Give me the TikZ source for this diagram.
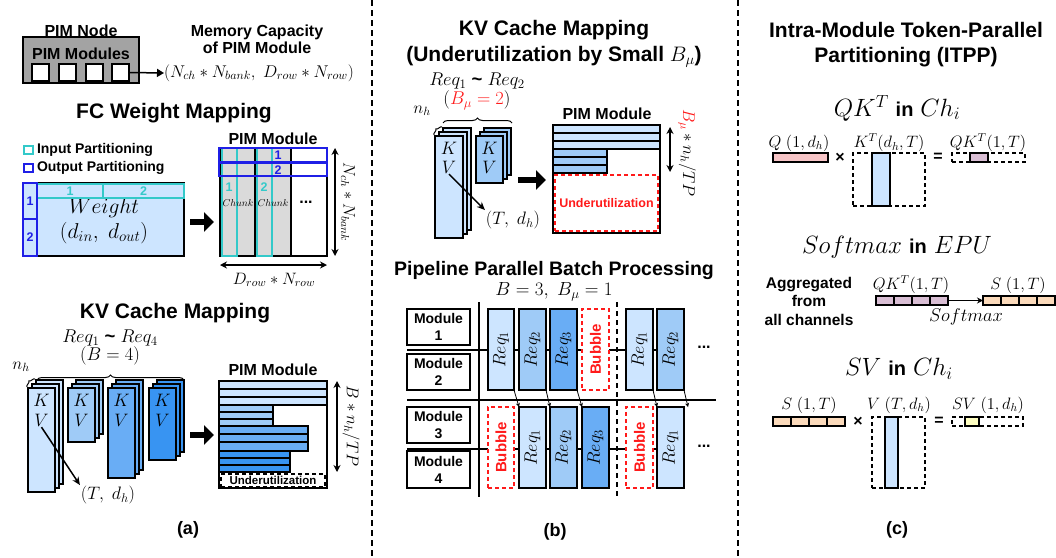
\RequirePackage{fix-cm}
\documentclass[tikz,border=0pt]{standalone}
\usepackage[no-math]{fontspec}
\setmainfont{Liberation Sans}
\usepackage{graphicx}
\usetikzlibrary{arrows.meta,decorations.pathreplacing}
\definecolor{cA}{HTML}{CDE5FF}
\definecolor{cB}{HTML}{9FCBF7}
\definecolor{cC}{HTML}{69ADF5}
\definecolor{cD}{HTML}{3894F2}
\definecolor{cyanP}{HTML}{33C9C9}
\definecolor{blueP}{HTML}{1F1FE6}
\definecolor{nodegray}{HTML}{A3A3A3}
\definecolor{colgray}{HTML}{DADADA}
\definecolor{qpink}{HTML}{F7C5C7}
\definecolor{mauve}{HTML}{D9BED4}
\definecolor{peach}{HTML}{FBDABB}
\definecolor{pyellow}{HTML}{FFFFC2}
\definecolor{bred}{HTML}{FF1A1A}
\newcommand\fs[2]{\fontsize{#1}{#2}\selectfont}
\newcommand\R[7][]{\node[rbox,#1,minimum width={((#5)-(#3))*1pt},minimum height={((#6)-(#4))*1pt}] (#2) at ({((#3)+(#5))/2},{((#4)+(#6))/2}) {#7};}
\newcommand\kvstack[6]{%
  \R[fill=#6]{#1c}{#2+8}{#3-8}{#2+#4+8}{#3+#5-8}{}%
  \R[fill=#6]{#1b}{#2+4}{#3-4}{#2+#4+4}{#3+#5-4}{}%
  \R[fill=#6]{#1a}{#2}{#3}{#2+#4}{#3+#5}{}}
\newcommand\cellbar[6]{\R[fill=#6]{#1}{#2}{#3}{#4}{#5}{}%
  \foreach \i in {1,2,3}{\draw[celln] ({(#2)+\i*((#4)-(#2))/4},#3) -- ({(#2)+\i*((#4)-(#2))/4},#5);}}
\begin{document}
\begin{tikzpicture}[x=1pt,y=-1pt,
  every node/.style={inner sep=1pt,outer sep=0pt},
  rbox/.style={draw,line width=1.3pt,inner sep=0pt,outer sep=0pt},
  celln/.style={line width=1.3pt},
  divider/.style={line width=2.3pt,dash pattern=on 6pt off 4pt},
  ttl/.style={font=\fs{21}{25}\bfseries,align=center},
  lbl/.style={font=\fs{16}{17}\bfseries,align=center},
  mth/.style={font=\fs{18.5}{20}},
  cyl/.style={font=\fs{12.5}{13}\bfseries,text=cyanP},
  bll/.style={font=\fs{12.5}{13}\bfseries,text=blueP},
  blockarrow/.style={line width=6.5pt,-{Triangle[length=10pt,width=19pt]}},
  dimarr/.style={line width=1.3pt,{Stealth[length=7pt,width=7pt]}-{Stealth[length=7pt,width=7pt]}},
  ptr/.style={line width=1.5pt,-{Stealth[length=8pt,width=7pt]}},
  parr/.style={line width=0.8pt,-{Stealth[length=4pt,width=4pt]}},
  bigbrace/.style={decorate,decoration={brace,amplitude=5pt},line width=1pt},
  smbrace/.style={decorate,decoration={brace,amplitude=3pt},line width=1pt},
  ln/.style={line width=1.2pt},
  dsh/.style={line width=1.2pt,dash pattern=on 4pt off 3pt},
  bubble/.style={draw=bred,fill=white,line width=1.3pt,dash pattern=on 4pt off 3pt},
  modbox/.style={fill=white,font=\fs{14}{17}\bfseries,align=center}
]
\useasboundingbox (0,0) rectangle (1056,557);
% dividers
\coordinate (dvA1) at (372,0); \coordinate (dvA2) at (372,557);
\coordinate (dvB1) at (738,0); \coordinate (dvB2) at (738,557);
\draw[divider] (dvA1) -- (dvA2);
\draw[divider] (dvB1) -- (dvB2);

%%%%%%%% (a) PIM node
\node[lbl] (pimnode) at (81,31) {PIM Node};
\R[fill=nodegray]{pimbox}{23}{37}{139}{83}{}
\node[lbl] (pimmods) at (81,54) {PIM Modules};
\R[fill=white]{m1}{32}{64}{49}{81}{}
\R[fill=white]{m2}{59}{64}{76}{81}{}
\R[fill=white]{m3}{86}{64}{103}{81}{}
\R[fill=white]{m4}{112}{64}{129}{81}{}
\node[font=\fs{17}{20},anchor=west,inner sep=0pt] (cap) at (164,73) {$(N_{ch} * N_{bank},\ D_{row} * N_{row})$};
\draw[line width=1.5pt,-{Triangle[length=7pt,width=8pt]}] (m4.east) -- (cap.west);
\node[lbl] (memcap) at (257,39) {Memory Capacity\\of PIM Module};

%%%%%%%% FC weight mapping
\node[ttl] (fct) at (174,113) {FC Weight Mapping};
\R[draw=cyanP,line width=2pt]{lgi}{24}{146}{33}{154}{}
\node[font=\fs{14}{16}\bfseries,anchor=west] (lgit) at (36,149.5) {Input Partitioning};
\R[draw=blueP,line width=2pt]{lgo}{24}{164}{33}{172}{}
\node[font=\fs{14}{16}\bfseries,anchor=west] (lgot) at (36,167.5) {Output Partitioning};

\R[fill=cA]{wt}{23}{183}{184}{256}{}
\node[font=\fs{21.5}{24}] (wtxt) at (104,208) {$Weight$};
\node[font=\fs{21.5}{24}] (wdim) at (104,233) {$(d_{in},\ d_{out})$};
\R[draw=cyanP,line width=2pt,cyl]{ci1}{37}{184}{103}{198}{1}
\R[draw=cyanP,line width=2pt,cyl]{ci2}{103}{184}{184}{198}{2}
\R[draw=blueP,line width=2pt,bll]{bo1}{23}{183}{37}{219}{1}
\R[draw=blueP,line width=2pt,bll]{bo2}{23}{219}{37}{256}{2}

\coordinate (ba1s) at (190,222); \coordinate (ba1e) at (214,222);
\draw[blockarrow] (ba1s) -- (ba1e);

\node[lbl] (fcpimt) at (273,139) {PIM Module};
\fill[colgray] (220,148) rectangle (291,256);
\R{fcpim}{220}{148}{327}{256}{}
\draw[ln] (255,148) -- (255,256);
\draw[ln] (291,148) -- (291,256);
\R[draw=cyanP,line width=2pt]{cv1}{222}{148}{237}{256}{}
\R[draw=cyanP,line width=2pt]{cv2}{257}{148}{272}{256}{}
\node[cyl] (cv1l) at (229,187) {1};
\node[cyl] (cv2l) at (264,187) {2};
\node[font=\fs{10}{12}] (ch1) at (238,203) {$Chunk$};
\node[font=\fs{10}{12}] (ch2) at (273,203) {$Chunk$};
\node[font=\fs{16}{16}\bfseries] (fcdots) at (306,202) {...};
\R[draw=blueP,line width=2pt]{bh1}{219}{148}{327}{162}{}
\R[draw=blueP,line width=2pt]{bh2}{219}{163}{327}{176}{}
\node[bll] (bh1l) at (278,155) {1};
\node[bll] (bh2l) at (278,170) {2};
\coordinate (dv1) at (335,148); \coordinate (dv2) at (335,256);
\draw[dimarr] (dv1) -- (dv2);
\node[font=\fs{16.5}{18},rotate=-90] (nchl) at (348,202) {$N_{ch} * N_{bank}$};
\coordinate (dh1) at (220,265); \coordinate (dh2) at (327,265);
\draw[dimarr] (dh1) -- (dh2);
\node[font=\fs{16.5}{18}] (drowl) at (274,280) {$D_{row} * N_{row}$};

%%%%%%%% KV cache mapping (a)
\node[ttl] (kvta) at (175,313) {KV Cache Mapping};
\node[mth] (req14) at (110,338) {$Req_1$ {\bfseries\textasciitilde} $Req_4$};
\node[mth] (b4) at (110,356) {$(B=4)$};
\node[font=\fs{17}{18}] (nha) at (21,367) {$n_h$};
\coordinate (bra1) at (37,380); \coordinate (bra2) at (184,380);
\draw[bigbrace] (bra1) -- (bra2);
\coordinate (sba1) at (27,387); \coordinate (sba2) at (35,379);
\draw[smbrace] (sba1) -- (sba2);
\kvstack{sa}{28}{388}{27}{104}{cA}
\kvstack{sb}{68}{388}{27}{54}{cB}
\kvstack{sc}{108}{388}{27}{90}{cC}
\kvstack{sd}{149}{388}{27}{72}{cD}
\foreach \n/\x in {a/41.5,b/81.5,c/121.5,d/162.5}{
  \node[font=\fs{18}{18}] (ka\n) at (\x,400) {$K$};
  \node[font=\fs{18}{18}] (va\n) at (\x,420) {$V$};
}
\node[font=\fs{18}{20}] (tdha) at (108,495) {$(T,\ d_h)$};
\draw[ptr] (vaa.south) -- (tdha.north west);
\coordinate (ba2s) at (190,435); \coordinate (ba2e) at (214,435);
\draw[blockarrow] (ba2s) -- (ba2e);

\node[lbl] (pimat) at (273,370) {PIM Module};
\R[fill=white]{pima}{219}{381}{327}{488}{}
\foreach \ya/\yb in {381/389,389/397,397/405}{\draw[rbox,fill=cA] (219,\ya) rectangle (327,\yb);}
\foreach \ya/\yb in {405/412,412/419,419/426}{\draw[rbox,fill=cB] (219,\ya) rectangle (273,\yb);}
\foreach \ya/\yb in {426/434,434/442,442/451}{\draw[rbox,fill=cC] (219,\ya) rectangle (308,\yb);}
\foreach \ya/\yb in {451/458,458/465,465/472}{\draw[rbox,fill=cD] (219,\ya) rectangle (290,\yb);}
\R[dsh,fill=white,font=\fs{11.5}{12}\bfseries]{undera}{221}{474}{325}{487}{Underutilization}
\coordinate (dva1) at (337,381); \coordinate (dva2) at (337,472);
\draw[dimarr] (dva1) -- (dva2);
\node[font=\fs{17}{18},rotate=-90] (bnhl) at (351,426) {$B * n_h/TP$};
\node[font=\fs{18}{20}\bfseries] (capa) at (188,530) {(a)};

%%%%%%%% (b) KV cache mapping small B_mu
\node[ttl,font=\fs{21}{26}\bfseries] (kvtb) at (554,44) {KV Cache Mapping\\(Underutilization by Small $B_\mu$)};
\node[mth] (req12) at (477,81) {$Req_1$ {\bfseries\textasciitilde} $Req_2$};
\node[mth] (bmu2) at (477,100) {$(\textcolor{bred}{B_\mu=2})$};
\node[font=\fs{17}{18}] (nhb) at (422,111) {$n_h$};
\coordinate (brb1) at (443,123); \coordinate (brb2) at (512,123);
\draw[bigbrace] (brb1) -- (brb2);
\coordinate (sbb1) at (434,135); \coordinate (sbb2) at (442,127);
\draw[smbrace] (sbb1) -- (sbb2);
\kvstack{ta}{435}{136}{28}{102}{cA}
\kvstack{tb}{476}{136}{27}{47}{cB}
\node[font=\fs{18}{18}] (kba) at (449,148) {$K$};
\node[font=\fs{18}{18}] (vba) at (449,167) {$V$};
\node[font=\fs{18}{18}] (kbb) at (489.5,148) {$K$};
\node[font=\fs{18}{18}] (vbb) at (489.5,167) {$V$};
\node[font=\fs{18}{20}] (tdhb) at (513,220) {$(T,\ d_h)$};
\draw[ptr] (vba.south) -- (tdhb.north west);
\coordinate (ba3s) at (518,180); \coordinate (ba3e) at (546,180);
\draw[blockarrow] (ba3s) -- (ba3e);

\node[lbl] (pimbt) at (607,114) {PIM Module};
\R[fill=white]{pimb}{553}{125}{660}{233}{}
\foreach \ya/\yb in {125/133,133/141,141/149}{\draw[rbox,fill=cA] (553,\ya) rectangle (660,\yb);}
\foreach \ya/\yb in {149/157,157/165,165/173}{\draw[rbox,fill=cB] (553,\ya) rectangle (607,\yb);}
\R[draw=bred,line width=1.3pt,dash pattern=on 4pt off 3pt,font=\fs{12.5}{13}\bfseries,text=bred]{underb}{555}{175}{658}{231}{Underutilization}
\coordinate (dvb1) at (670,127); \coordinate (dvb2) at (670,172);
\draw[dimarr] (dvb1) -- (dvb2);
\node[font=\fs{17}{18},rotate=-90] (bmul) at (687,153) {$\textcolor{bred}{B_\mu} * n_h/TP$};

%%%%%%%% pipeline
\node[font=\fs{19.5}{22}\bfseries] (pipet) at (554,270) {Pipeline Parallel Batch Processing};
\node[font=\fs{19}{22}] (b31) at (554,292) {$B=3,\ B_\mu=1$};
\coordinate (r1a) at (407,350); \coordinate (r1b) at (684,350);
\coordinate (r2a) at (407,449); \coordinate (r2b) at (684,449);
\coordinate (mla) at (407,400); \coordinate (mlb) at (716,400);
\coordinate (vla) at (479,302); \coordinate (vlb) at (479,497);
\coordinate (dla) at (617,302); \coordinate (dlb) at (617,497);
\draw[ln] (r1a) -- (r1b);
\draw[ln] (r2a) -- (r2b);
\draw[ln] (mla) -- (mlb);
\draw[ln] (vla) -- (vlb);
\draw[line width=1.2pt,dash pattern=on 5pt off 4pt] (dla) -- (dlb);
\R[modbox]{mod1}{407}{309}{470}{345}{Module\\1}
\R[modbox]{mod2}{407}{354}{470}{390}{Module\\2}
\R[modbox]{mod3}{407}{407}{470}{443}{Module\\3}
\R[modbox]{mod4}{407}{451}{470}{488}{Module\\4}
\R[fill=cA,font=\fs{18}{18}]{t1}{488}{309}{514}{390}{\rotatebox{90}{$Req_1$}}
\R[fill=cB,font=\fs{18}{18}]{t2}{519}{309}{546}{390}{\rotatebox{90}{$Req_2$}}
\R[fill=cC,font=\fs{18}{18}]{t3}{550}{309}{577}{390}{\rotatebox{90}{$Req_3$}}
\R[bubble,font=\fs{15}{15}\bfseries,text=bred]{t4}{582}{309}{609}{390}{\rotatebox{90}{Bubble}}
\R[fill=cA,font=\fs{18}{18}]{t5}{626}{309}{653}{390}{\rotatebox{90}{$Req_1$}}
\R[fill=cB,font=\fs{18}{18}]{t6}{657}{309}{684}{390}{\rotatebox{90}{$Req_2$}}
\R[bubble,font=\fs{15}{15}\bfseries,text=bred]{s1}{488}{407}{514}{488}{\rotatebox{90}{Bubble}}
\R[fill=cA,font=\fs{18}{18}]{s2}{519}{407}{546}{488}{\rotatebox{90}{$Req_1$}}
\R[fill=cB,font=\fs{18}{18}]{s3}{550}{407}{577}{488}{\rotatebox{90}{$Req_2$}}
\R[fill=cC,font=\fs{18}{18}]{s4}{582}{407}{609}{488}{\rotatebox{90}{$Req_3$}}
\R[bubble,font=\fs{15}{15}\bfseries,text=bred]{s5}{626}{407}{653}{488}{\rotatebox{90}{Bubble}}
\R[fill=cA,font=\fs{18}{18}]{s6}{657}{407}{684}{488}{\rotatebox{90}{$Req_1$}}
\coordinate (pend) at (688,407);
\draw[parr] (t1.south east) -- (s2.north west);
\draw[parr] (t2.south east) -- (s3.north west);
\draw[parr] (t3.south east) -- (s4.north west);
\draw[parr] (t5.south east) -- (s6.north west);
\draw[parr] (t6.south east) -- (pend);
\node[font=\fs{16}{16}\bfseries] (dt1) at (704,347) {...};
\node[font=\fs{16}{16}\bfseries] (dt2) at (704,446) {...};
\node[font=\fs{18}{20}\bfseries] (capb) at (555,532) {(b)};

%%%%%%%% (c)
\node[ttl] (itpp) at (906,45) {Intra-Module Token-Parallel\\Partitioning (ITPP)};
\node[font=\fs{25}{28}] (qkin) at (897,108) {$QK^T$ {\fs{20}{24}\bfseries in} $Ch_i$};
\node[font=\fs{16.5}{18}] (ql) at (799,143) {$Q\ (1,d_h)$};
\node[font=\fs{16.5}{18}] (ktl) at (889,143) {$K^T(d_h,T)$};
\node[font=\fs{16.5}{18}] (qktl) at (988,143) {$QK^T(1,T)$};
\R[fill=qpink]{qbar}{773}{153}{828}{162}{}
\node[font=\fs{16}{16}\bfseries] (x1) at (840,158) {×};
\R[dsh]{ktd}{853}{153}{925}{206}{}
\R[fill=cA]{ktb}{872}{153}{890}{206}{}
\node[font=\fs{16}{16}\bfseries] (eq1) at (938,157) {=};
\R[dsh]{qkd}{952}{153}{1025}{162}{}
\R[fill=mauve]{qkb}{970}{153}{988}{162}{}

\node[font=\fs{25}{28}] (smin) at (897,247) {$Softmax$ {\fs{20}{24}\bfseries in} $EPU$};
\node[font=\fs{15.5}{18.5}\bfseries,align=center] (aggr) at (809,301) {Aggregated\\from\\all channels};
\node[font=\fs{16.5}{18}] (qkt2) at (911,285) {$QK^T(1,T)$};
\cellbar{qkbar}{876}{296}{948}{305}{mauve}
\cellbar{sbar}{983}{296}{1055}{305}{peach}
\node[font=\fs{16.5}{18}] (sl1) at (1018,285) {$S\ (1,T)$};
\draw[line width=1.3pt,-{Stealth[length=6pt,width=6pt]}] (qkbar.east) -- (sbar.west);
\node[font=\fs{18.5}{20}] (smx) at (966,317) {$Softmax$};

\node[font=\fs{25}{28}] (svin) at (899,369) {$SV$ {\fs{20}{24}\bfseries in} $Ch_i$};
\node[font=\fs{16.5}{18}] (sl2) at (809,405) {$S\ (1,T)$};
\node[font=\fs{16.5}{18}] (vl) at (899,405) {$V\ (T,d_h)$};
\node[font=\fs{16.5}{18}] (svl) at (988,405) {$SV\ (1,d_h)$};
\cellbar{sbar2}{773}{417}{845}{426}{peach}
\node[font=\fs{16}{16}\bfseries] (x2) at (858,422) {×};
\R[dsh]{vd}{872}{417}{925}{488}{}
\R[fill=cA]{vb}{885}{417}{898}{488}{}
\node[font=\fs{16}{16}\bfseries] (eq2) at (939,421) {=};
\R[dsh]{svd}{952}{417}{1023}{426}{}
\R[fill=pyellow]{svb}{965}{417}{979}{426}{}
\node[font=\fs{18}{20}\bfseries] (capc) at (897,530) {(c)};
\end{tikzpicture}
\end{document}
